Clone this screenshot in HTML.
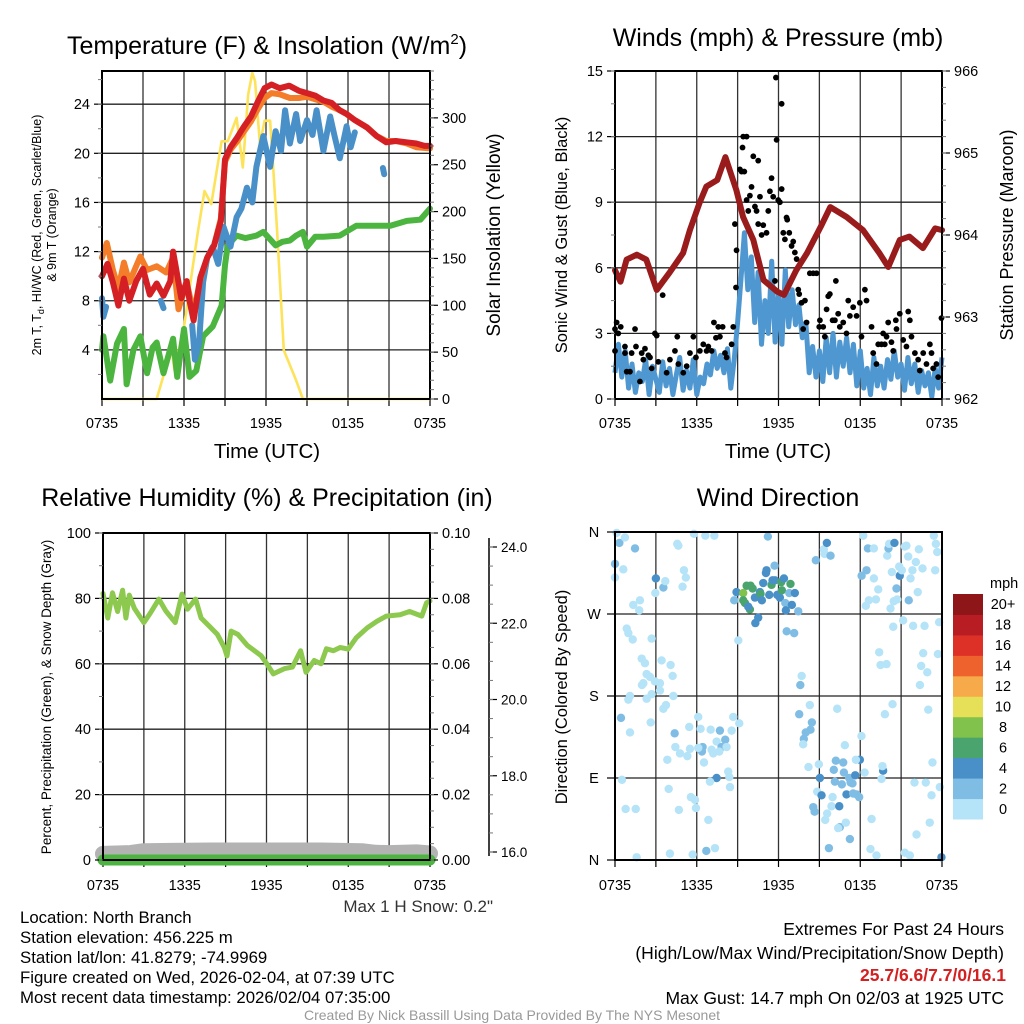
<!DOCTYPE html>
<html><head><meta charset="utf-8"><style>
html,body{margin:0;padding:0;background:#fff;}
svg{display:block;font-family:"Liberation Sans",Arial,sans-serif;}
</style></head><body>
<svg id="fig" width="1024" height="1024" viewBox="0 0 1024 1024" xmlns="http://www.w3.org/2000/svg">
<rect x="0" y="0" width="1024" height="1024" fill="#fff"/>
<g id="p1"></g>
<g id="p2"></g>
<g id="p3"></g>
<g id="p4"></g>
<text x="267" y="54" font-size="25" text-anchor="middle">Temperature (F) &amp; Insolation (W/m<tspan font-size="15" dy="-10">2</tspan><tspan dy="10">)</tspan></text>
<text x="778" y="46" font-size="25" text-anchor="middle">Winds (mph) &amp; Pressure (mb)</text>
<text x="267" y="506" font-size="25" text-anchor="middle">Relative Humidity (%) &amp; Precipitation (in)</text>
<text x="778" y="506" font-size="25" text-anchor="middle">Wind Direction</text>
<text x="267" y="458" font-size="20.5" text-anchor="middle">Time (UTC)</text>
<text x="778" y="458" font-size="20.5" text-anchor="middle">Time (UTC)</text>
<text transform="translate(41,235) rotate(-90)" font-size="12.5" text-anchor="middle">2m T, T<tspan font-size="9" dy="3">d</tspan><tspan dy="-3">, HI/WC (Red, Green, Scarlet/Blue)</tspan></text>
<text transform="translate(56,235) rotate(-90)" font-size="12.5" text-anchor="middle">&amp; 9m T (Orange)</text>
<text transform="translate(500,235) rotate(-90)" font-size="19" text-anchor="middle">Solar Insolation (Yellow)</text>
<text transform="translate(567,235) rotate(-90)" font-size="16.5" text-anchor="middle">Sonic Wind &amp; Gust (Blue, Black)</text>
<text transform="translate(1013,235) rotate(-90)" font-size="18" text-anchor="middle">Station Pressure (Maroon)</text>
<text transform="translate(51,697) rotate(-90)" font-size="13.5" text-anchor="middle">Percent, Precipitation (Green), &amp; Snow Depth (Gray)</text>
<text transform="translate(567,697) rotate(-90)" font-size="16.5" text-anchor="middle">Direction (Colored By Speed)</text>
<text x="493" y="912" font-size="17" text-anchor="end" fill="#333">Max 1 H Snow: 0.2"</text>
<g font-size="16.8">
<text x="20" y="923">Location: North Branch</text>
<text x="20" y="943">Station elevation: 456.225 m</text>
<text x="20" y="963">Station lat/lon: 41.8279; -74.9969</text>
<text x="20" y="983">Figure created on Wed, 2026-02-04, at 07:39 UTC</text>
<text x="20" y="1003">Most recent data timestamp: 2026/02/04 07:35:00</text>
</g>
<g font-size="17.5" text-anchor="end">
<text x="1004" y="935">Extremes For Past 24 Hours</text>
<text x="1004" y="959">(High/Low/Max Wind/Precipitation/Snow Depth)</text>
<text x="1006" y="981" fill="#d42020" font-weight="bold">25.7/6.6/7.7/0/16.1</text>
<text x="1004" y="1004">Max Gust: 14.7 mph On 02/03 at 1925 UTC</text>
</g>
<text x="512" y="1020" font-size="14" text-anchor="middle" fill="#999">Created By Nick Bassill Using Data Provided By The NYS Mesonet</text>
</svg>
<script>
// ---------- DATA ----------
const xTickLabels = ["0735","1335","1935","0135","0735"];
// Panel 1 (hours since 0735)
const redT = [0,0.4,0.8,1.2,1.6,2,2.5,3,3.5,4,4.5,5,5.2,5.8,6.2,6.4,6.7,7.2,7.7,8.2,8.7,9.0,9.4,9.9,10.4,10.9,11.4,11.9,12.4,13,13.7,14.4,15,15.6,16.2,16.8,17.4,17.9,18.5,19.4,20.1,20.8,21.5,22.3,23,23.6,24];
const redV = [10,11,9.5,7.6,9.8,8,9.6,10.6,8.5,9.4,8.4,9.6,12,8.2,9.6,8,6.4,9.9,11.5,12.5,14.5,19.5,20.5,21.3,22.2,23,24.2,25.3,25.6,25.3,25.5,25.1,24.9,24.7,24.3,24.1,23.5,23.2,22.7,22.1,21.4,20.9,21,20.9,20.8,20.6,20.6];
const orangeT = [0,0.35,0.8,1.2,1.6,2,2.8,3.3,4,4.7,5.2,5.6,6.2,6.7,7.2,7.7,8.2,8.7,9.0,9.4,9.9,10.4,10.9,11.4,11.9,12.4,13,13.75,14.4,15,15.6,16.2,16.8,17.4,17.9,18.5,19.4,20.1,20.8,21.5,22.3,23,24];
const orangeV = [11.5,12.7,10.5,9,11.1,9.5,11.6,10.5,10.8,10.3,11.5,7.3,9.5,7,9.8,11.5,12.5,14.7,19.3,20.3,21,21.8,22.6,23.6,24.5,24.9,24.8,24.5,24.5,24.6,24.4,24.2,23.8,23.5,23.2,22.7,22.1,21.4,21,21,20.8,20.5,20.4];
const dewT = [0,0.1,0.3,null,4.3,4.5,null,6.6,6.8,7.1,7.4,7.7,8.1,8.5,8.9,9.4,9.85,10.2,10.6,11.0,11.3,11.8,12.3,12.7,13.1,13.4,13.75,14.2,14.5,15.0,15.4,15.7,16.2,16.7,17.0,17.4,17.9,18.2,18.5,null,20.55,20.65];
const dewV = [8.2,6.7,7.5,null,8,7.4,null,6,3.2,4.5,9.5,11.5,12.4,11,14,12.4,14.8,15.5,17.2,16,18.9,21.4,18.9,21.8,20.2,23.5,20.8,23.2,21,22.7,21.5,23.5,20.2,23,21.5,19.6,22.2,20.5,21.7,null,18.8,18.3];
const hiT = [0,0.1,0.6,1.1,1.6,1.8,2.3,2.8,3.3,3.7,4.0,4.5,5.2,5.5,6.0,6.4,6.9,7.4,8.1,8.75,9.0,9.2,9.85,10.5,11.3,11.8,12.7,13.2,13.75,14.2,14.7,15.0,15.6,16.2,17.4,18.6,19.8,21.1,22.3,23.3,24];
const hiV = [4,5.1,1.5,4.5,5.7,1.2,4,5.1,2.1,4.2,4.6,2.1,4.9,1.8,5.7,1.8,2.3,5.1,5.9,7.6,10.9,12.5,13.3,13.1,13.3,13.6,12.5,12.8,12.9,13.3,13.6,12.4,13.2,13.2,13.3,14.1,14.1,14.1,14.5,14.6,15.5];
const solT = [0,4.0,4.2,4.6,5.1,5.3,6.0,7.0,7.5,8.0,8.4,8.75,9.2,9.85,10.3,10.7,11.0,11.2,11.55,11.9,12.3,12.5,12.8,13.3,14.2,14.7,24];
const solV = [0,0,10,30,52,31,77,177,222,208,244,275,275,300,247,325,348,339,272,297,297,254,183,52,20,0,0];
const tempTicks = [4,8,12,16,20,24];
const solTicks = [0,50,100,150,200,250,300];
// Panel 2
const windV = [1.2,2.5,1.0,2.2,0.5,1.6,0.3,1.2,0.8,1.8,0.2,1.5,0.9,0.3,1.7,0.6,1.4,0.2,1.1,1.9,0.4,1.3,0.5,1.8,0.2,1.0,0.7,1.6,1.1,2.2,1.4,2.0,1.2,2.3,0.5,1.8,
3.5,5.5,7.6,5.0,6.5,3.5,5.8,2.5,4.5,3.0,6.3,2.6,4.8,2.5,5.9,3.3,5.0,3.4,4.3,2.8,3.5,1.2,2.4,1.0,2.2,0.8,2.8,1.2,3.0,1.0,2.6,1.5,2.8,1.2,2.5,0.6,2.2,0.5,1.4,0.2,1.9,0.6,1.5,0.5,1.8,0.9,2.2,1.0,1.6,0.4,1.9,0.7,1.6,0.3,1.3,0.6,1.2,0.1,1.4,0.5,1.9];
const gustT = [0,0,0.12,0.42,0.24,0.73,0.73,0.86,1.1,1.22,1.47,1.54,1.83,1.96,2.08,2.2,2.45,2.57,2.69,2.93,3.06,3.18,3.5,3.79,4.03,4.4,4.57,4.65,5.01,5.26,5.5,5.75,5.94,6.23,6.48,6.72,6.85,7.09,7.26,7.41,7.58,7.7,7.9,8.07,8.19,8.56,8.68,8.8,8.88,8.92,9.17,9.29,9.36,9.41,9.66,9.49,9.66,9.78,9.9,10.02,10.15,10.51,10.27,10.39,10.51,10.64,10.76,10.88,11.12,11.25,11.37,11.49,11.61,11.74,11.81,11.86,11.98,12.1,12.23,12.23,12.35,12.47,12.59,12.64,12.79,12.96,13.08,13.2,13.33,13.45,13.52,13.69,13.81,13.94,14.06,14.3,14.55,14.79,14.99,15.04,15.28,15.4,15.53,15.65,15.77,15.97,16.14,16.21,16.38,16.5,16.75,16.99,17.12,17.24,17.48,17.73,17.97,18.09,18.34,18.46,18.83,18.95,19.19,19.32,19.56,19.68,19.8,19.93,20.05,20.29,20.42,20.61,20.66,20.9,21.15,21.39,21.52,21.64,21.76,22.01,22.25,22.37,22.62,22.86,23.11,23.23,23.35,23.59,23.72,23.96];
const gustV = [2.2,3.2,3.5,3.3,3.0,2.4,2.1,1.25,1.25,2.1,3.2,2.4,0.8,2.1,1.8,2.3,2.0,1.9,1.4,3.0,2.9,1.7,4.75,1.2,1.8,2.2,2.85,1.6,1.2,1.5,2.1,2.85,1.9,2.2,2.5,2.2,2.4,2.2,3.5,2.8,3.3,2.85,3.3,2.1,1.9,2.5,3.3,8.0,5.1,6.8,10.5,10.4,11.5,12.0,12.0,10.4,9.1,8.6,9.3,9.7,11.1,10.9,8.8,8.6,8.0,9.25,7.5,7.95,7.6,8.6,9.5,10.1,9.25,5.4,14.7,11.85,9.1,9.0,13.5,9.6,7.6,7.3,8.3,8.2,7.6,7.0,7.2,6.7,6.4,5.0,4.8,4.4,3.2,4.5,3.5,5.75,5.75,5.75,3.3,3.6,3.3,2.85,4.1,4.7,4.8,3.6,3.6,5.4,3.9,3.3,3.5,3.0,4.5,3.8,4.2,3.8,4.4,2.85,5.0,4.5,3.3,2.1,1.6,2.5,2.5,3.0,2.5,2.85,3.5,2.6,2.2,3.6,3.2,3.9,2.7,2.4,4.0,3.6,2.85,2.1,1.8,1.3,2.1,1.6,2.5,2.1,1.4,1.6,1.0,3.7];
const presT = [0,0.4,0.85,1.6,2.3,3.06,4.0,5.0,5.5,6.2,6.7,7.5,8.1,8.9,9.4,10.15,10.9,11.9,12.4,13.3,14.1,15.1,15.8,17.0,18.2,19.4,20.06,20.9,21.6,22.6,23.5,24];
const presV = [963.57,963.43,963.70,963.76,963.70,963.33,963.54,963.78,964.06,964.39,964.59,964.67,964.95,964.55,964.22,963.94,963.45,963.31,963.27,963.57,963.78,964.10,964.34,964.22,964.06,963.78,963.61,963.94,963.98,963.84,964.08,964.06];
const windTicks = [0,3,6,9,12,15];
const presTicks = [962,963,964,965,966];
// Panel 3
const rhT = [0,0.35,0.7,1.07,1.44,1.68,1.93,2.3,3.0,3.5,4.1,4.6,5.3,5.8,6.2,6.8,7.2,7.9,8.4,8.9,9.1,9.4,9.9,10.6,11.6,12.04,12.5,13.3,13.9,14.5,14.9,15.5,16.0,16.4,16.9,17.4,18.0,18.6,19.4,20.1,20.8,21.8,22.5,23.4,23.75,24];
const rhV = [81.5,74,81.7,76,82.5,74,81,77,72.6,75.7,79.8,76.2,72.6,81.3,76.7,79.8,74,71.1,69,65,62.4,70,69,65.6,62.5,59.9,56.9,58.5,59,64,57.4,61,60,64.6,64,65,64.5,68,71,73,74.6,75,76,74.6,78.7,79.2];
const snowT = [0,1,2,3,5,8,12,16,19,20,21,22,23,24];
const snowV = [15.95,15.96,15.97,16.02,16.03,16.04,16.04,16.04,16.02,15.98,15.97,15.98,15.99,15.96];
const precipT = [0,24];
const precipV = [0,0];
const rhTicks = [0,20,40,60,80,100];
const precipTicks = ["0.00","0.02","0.04","0.06","0.08","0.10"];
const snowTicks = ["16.0","18.0","20.0","22.0","24.0"];
// Panel 4 wind direction: hours, degrees, speed (mph)
const dirT = [0.12,0.32,0.73,1.47,0,0.61,0,1.34,1.83,1.78,3.0,3.55,3.69,2.96,4.57,4.65,5.06,5.2,4.96,5.8,6.63,7.29,0.86,0.98,1.3,2.69,1.96,2.2,3.42,4.08,2.32,2.57,4.23,2.08,1.98,2.93,3.3,3.3,2.69,1.1,0.98,2.32,4.28,0.44,1.1,2.62,3.74,3.55,4.38,3.84,4.43,4.77,5.31,5.5,5.45,6.11,6.28,7.02,7.7,6.43,6.38,6.11,7.09,7.21,7.46,7.82,8.09,8.19,7.65,8.56,8.68,9.12,6.53,7.46,6.97,8.31,8.39,8.44,0.51,0.78,1.52,3.94,4.69,5.57,5.87,5.94,6.85,7.34,6.7,5.7,4.03,1.59,
8.92,8.75,9.41,9.66,9.95,10.1,9.41,9.54,9.9,9.78,10.27,10.64,10.68,10.78,10.88,11.08,11.12,11.32,11.49,11.56,11.74,11.71,11.91,12.1,12.2,12.4,12.25,12.5,12.54,12.79,12.88,13.2,12.98,13.45,10.51,10.3,12.6,13.15,9.05,11.22,13.7,13.6,13.52,14.3,14.45,14.35,14.0,13.86,13.81,14.2,14.74,15.33,15.38,15.55,15.82,
14.96,15.04,14.84,15.16,14.55,14.65,15.57,15.43,15.97,15.89,16.06,16.21,16.14,16.46,16.75,16.8,16.65,16.87,16.31,16.99,17.19,17.29,17.43,17.63,17.48,17.73,17.92,17.97,17.68,18.09,18.32,16.5,16.38,16.94,17.24,15.7,18.75,18.83,19.19,19.56,19.68,19.63,21.27,21.64,22.13,21.98,22.81,23.23,23.1,23.3,23.84,23.96,
18.22,18.56,19.0,18.1,18.46,19.0,19.32,19.15,18.63,18.41,19.98,20.07,20.12,20.51,20.32,20.46,20.66,20.71,20.22,20.42,20.9,21.05,20.86,21.27,21.39,21.52,21.69,21.83,22.08,22.3,22.22,22.57,21.56,21.15,21.88,22.72,23.4,23.55,23.65,23.5,23.79,19.39,19.49,19.93,22.62,22.47,22.92,23.7,22.38,20.37,19.81,22.99];
const dirV = [359,348,354,342,325,319,310,280,285,274,309,299,306,293,347,345,318,310,300,358,356,356,254,249,242,243,221,216,219,214,204,201,202,194,192,196,194,186,182,180,176,177,180,156,140,151,170,166,139,110,124,117,114,122,146,157,144,143,142,124,119,123,121,117,130,124,132,124,119,142,157,150,107,90,86,97,91,80,88,56,56,78,55,69,66,57,44,13,10,6,7,3,
294,285,293,301,301,298,285,282,275,278,288,294,292,285,304,315,318,291,302,307,307,323,291,288,305,309,296,282,274,293,303,293,280,273,266,260,251,249,241,355,202,192,160,170,151,143,140,133,127,102,329,341,336,348,334,
105,90,75,71,58,53,51,44,69,59,99,109,86,59,107,96,83,126,166,72,90,85,84,93,73,72,69,110,110,136,96,36,35,41,23,13,12,45,5,89,98,103,8,5,28,85,85,71,41,107,80,3,
356,342,342,312,318,309,297,286,285,279,334,342,347,348,316,284,298,286,276,256,312,318,322,344,345,333,309,318,327,341,294,320,285,263,257,257,356,347,338,318,261,228,214,215,227,213,206,226,192,171,160,165];
const dirS = [1,3,1,3,3,1,1,1,1,1,5,3,1,1,1,1,1,1,1,1,1,1,1,1,1,1,1,1,1,1,1,1,1,1,1,1,1,1,1,1,1,1,1,3,1,1,1,1,3,1,1,1,1,1,1,1,1,1,3,3,3,1,1,1,1,3,3,1,1,1,1,1,1,5,1,1,1,1,1,1,1,1,1,1,1,1,1,1,3,1,1,1,
5,3,9,7,7,7,7,7,7,5,5,5,7,5,5,5,5,5,7,5,5,3,5,5,7,5,7,3,5,3,7,5,5,3,5,5,3,3,1,3,1,3,3,1,3,3,3,3,1,1,3,1,1,5,3,
1,5,1,5,3,3,1,1,1,1,3,3,3,5,3,3,3,1,1,5,3,3,3,5,3,3,3,5,1,1,1,3,1,1,3,3,1,1,1,1,5,1,1,1,1,1,1,1,1,1,1,5,
1,3,1,3,3,1,1,1,1,1,1,3,1,5,1,1,3,1,1,1,5,1,1,1,1,1,1,1,1,1,1,1,3,1,1,1,1,1,1,1,1,1,1,1,1,1,1,1,1,1,1,1];
const dirLabels = ["N","W","S","E","N"];
const speedBins = ["0","2","4","6","8","10","12","14","16","18","20+"];
const speedColors = ["#b5e3f7","#80bde5","#4a90c8","#4aa46e","#80c24b","#e6df58","#f6aa4a","#ee622e","#dd3127","#b81d24","#8e1619"];

// ---------- HELPERS ----------
const NS = "http://www.w3.org/2000/svg";
function mk(parent, tag, attrs, text){
  const e = document.createElementNS(NS, tag);
  for (const k in attrs) e.setAttribute(k, attrs[k]);
  if (text !== undefined) e.textContent = text;
  parent.appendChild(e);
  return e;
}
function lin(d0,d1,r0,r1){ return v => r0 + (v-d0)*(r1-r0)/(d1-d0); }
function pathD(ts, vs, sx, sy){
  let d = "", pen = false;
  for (let i=0;i<ts.length;i++){
    if (ts[i]===null || vs[i]===null){ pen=false; continue; }
    d += (pen?"L":"M") + sx(ts[i]).toFixed(1) + "," + sy(vs[i]).toFixed(1);
    pen = true;
  }
  return d;
}
function frame(g, L, T, R, B, hLines, sy, name, labOff){
  const sx = lin(0,24,L,R);
  for (let h=3; h<24; h+=3){
    const ln = mk(g,"line",{x1:sx(h),x2:sx(h),y1:T,y2:B,stroke:"#333","stroke-width":1.3});
    
    
  }
  hLines.forEach(v=>{
    const ln = mk(g,"line",{x1:L,x2:R,y1:sy(v),y2:sy(v),stroke:"#222","stroke-width":1.3});
    
    
  });
  for (let h=0; h<=24; h+=3){
    mk(g,"line",{x1:sx(h),x2:sx(h),y1:B,y2:B+7,stroke:"#000","stroke-width":1.2});
  }
  xTickLabels.forEach((lab,i)=>{
    const t = mk(g,"text",{x:sx(i*6),y:B+labOff,"font-size":14.5,"text-anchor":"middle"},lab);
    
    
  });
  return sx;
}
function border(g,L,T,R,B){
  const r = mk(g,"rect",{x:L,y:T,width:R-L,height:B-T,fill:"none",stroke:"#000","stroke-width":2});
  
  
}
function yAxisTicks(g, x, dir, ticks, labels, sy, minor, fs){
  ticks.forEach((v,i)=>{
    mk(g,"line",{x1:x,x2:x+dir*8,y1:sy(v),y2:sy(v),stroke:"#000","stroke-width":1.2});
    const t = mk(g,"text",{x:x+dir*12,y:sy(v)+5,"font-size":fs||14.5,"text-anchor":dir<0?"end":"start"},labels[i]);
    
    
  });
  minor.forEach(v=>{
    mk(g,"line",{x1:x,x2:x+dir*4,y1:sy(v),y2:sy(v),stroke:"#777","stroke-width":1});
  });
}
function range(a,b,s){ const r=[]; for(let v=a; v<=b+1e-9; v+=s) r.push(+v.toFixed(4)); return r; }

// ---------- PANEL 1 ----------
(function(){
  const g = document.getElementById('p1');
  const L=102,T=71,R=430,B=399;
  const sy = lin(0,26.7,B,T), sy2 = lin(0,350,B,T);
  const sx = frame(g,L,T,R,B,tempTicks,sy,'p1',29);
  const solar = mk(g,"path",{d:pathD(solT,solV,sx,sy2),fill:"none",stroke:"#fde35a","stroke-width":2.6,"stroke-linejoin":"round"});
  
  
  const hi = mk(g,"path",{d:pathD(hiT,hiV,sx,sy),fill:"none",stroke:"#4bb540","stroke-width":6,"stroke-linejoin":"round","stroke-linecap":"round"});
  
  
  const dew = mk(g,"path",{d:pathD(dewT,dewV,sx,sy),fill:"none",stroke:"#4a90c8","stroke-width":6,"stroke-linejoin":"round","stroke-linecap":"round"});
  
  
  const or = mk(g,"path",{d:pathD(orangeT,orangeV,sx,sy),fill:"none",stroke:"#f47d2a","stroke-width":6,"stroke-linejoin":"round","stroke-linecap":"round"});
  
  
  const rd = mk(g,"path",{d:pathD(redT,redV,sx,sy),fill:"none",stroke:"#d42025","stroke-width":6,"stroke-linejoin":"round","stroke-linecap":"round"});
  
  
  border(g,L,T,R,B);
  yAxisTicks(g,L,-1,tempTicks,tempTicks.map(String),sy,range(2,26,2),14.5);
  yAxisTicks(g,R,1,solTicks,solTicks.map(String),sy2,range(0,350,10),14.5);
})();

// ---------- PANEL 2 ----------
(function(){
  const g = document.getElementById('p2');
  const L=615,T=71,R=942,B=399;
  const sy = lin(0,15,B,T), sy2 = lin(962,966,B,T);
  const sx = frame(g,L,T,R,B,[3,6,9,12],sy,'p2',29);
  const wt = windV.map((v,i)=>i*0.25);
  const w = mk(g,"path",{d:pathD(wt,windV,sx,sy),fill:"none",stroke:"#4f97d0","stroke-width":5,"stroke-linejoin":"round"});
  
  
  gustT.forEach((t,i)=>{
    const c = mk(g,"circle",{cx:sx(t),cy:sy(gustV[i]),r:2.9,fill:"#000"});
    
    
  });
  const p = mk(g,"path",{d:pathD(presT,presV,sx,sy2),fill:"none",stroke:"#9a1b1b","stroke-width":6,"stroke-linejoin":"round","stroke-linecap":"round"});
  
  
  border(g,L,T,R,B);
  yAxisTicks(g,L,-1,windTicks,windTicks.map(String),sy,range(0,15,1.5),14.5);
  yAxisTicks(g,R,1,presTicks,presTicks.map(String),sy2,range(962,966,0.2),14.5);
})();

// ---------- PANEL 3 ----------
(function(){
  const g = document.getElementById('p3');
  const L=103,T=533,R=430,B=860;
  const sy = lin(0,100,B,T), sy2 = lin(0,0.10,B,T), sy3 = lin(16,24,852,547);
  const sx = frame(g,L,T,R,B,[20,40,60,80],sy,'p3',30);
  const sn = mk(g,"path",{d:pathD(snowT,snowV,sx,sy3),fill:"none",stroke:"#b3b3b3","stroke-width":16,"stroke-linejoin":"round","stroke-linecap":"round"});
  
  
  const pr = mk(g,"path",{d:pathD(precipT,precipV,sx,sy2),fill:"none",stroke:"#4bb540","stroke-width":11,"stroke-linecap":"round"});
  
  
  const rh = mk(g,"path",{d:pathD(rhT,rhV,sx,sy),fill:"none",stroke:"#8cc94e","stroke-width":5,"stroke-linejoin":"round","stroke-linecap":"round"});
  
  
  border(g,L,T,R,B);
  yAxisTicks(g,L,-1,rhTicks,rhTicks.map(String),sy,range(0,100,10),14.5);
  yAxisTicks(g,R,1,precipTicks.map(Number),precipTicks,sy2,range(0,0.1,0.005),14.5);
  const ax = mk(g,"line",{x1:489,x2:489,y1:538,y2:856,stroke:"#000","stroke-width":1.5});
  
  
  yAxisTicks(g,489,1,snowTicks.map(Number),snowTicks,sy3,range(16,24,0.5),13.5);
})();

// ---------- PANEL 4 ----------
(function(){
  const g = document.getElementById('p4');
  const L=615,T=532,R=942,B=860;
  const sy = lin(360,0,T,B);
  const sx = frame(g,L,T,R,B,[270,180,90],sy,'p4',30);
  dirT.forEach((t,i)=>{
    const bin = Math.min(10, Math.floor(dirS[i]/2));
    const c = mk(g,"circle",{cx:sx(t),cy:sy(dirV[i]),r:4.2,fill:speedColors[bin]});
    
    
  });
  border(g,L,T,R,B);
  [360,270,180,90,0].forEach((v,i)=>{
    mk(g,"line",{x1:L,x2:L-8,y1:sy(v),y2:sy(v),stroke:"#000","stroke-width":1.2});
    const t = mk(g,"text",{x:L-21,y:sy(v)+5,"font-size":14.5,"text-anchor":"middle"},dirLabels[i]);
    
    
  });
  const cb = mk(g,"g",{});
  
  
  const n = speedBins.length, yTop = 594, yb = 819, h = (yb-yTop)/n, x0 = 953;
  speedBins.forEach((lab,i)=>{
    const yy = yb-(i+1)*h;
    mk(cb,"rect",{x:x0,y:yy,width:30,height:h+0.5,fill:speedColors[i]});
    const t = mk(cb,"text",{x:1003,y:yy+h/2+5,"font-size":14.5,"text-anchor":"middle"},lab);
    
    
  });
  mk(cb,"text",{x:990,y:588,"font-size":14.5},"mph");
})();
</script>
</body></html>
